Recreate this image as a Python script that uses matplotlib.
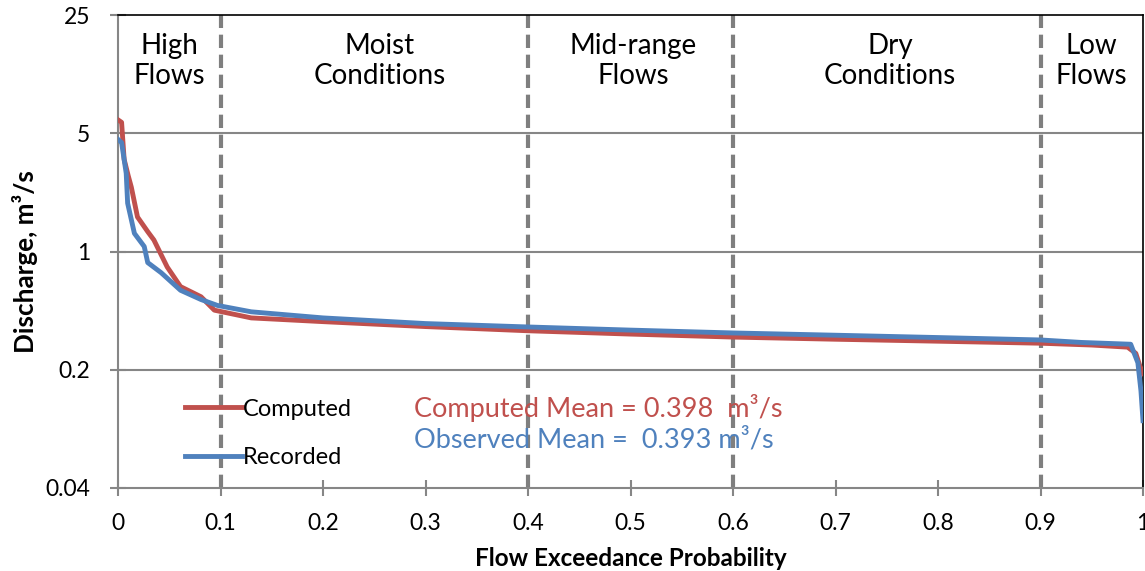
import numpy as np
import matplotlib
matplotlib.use("Agg")
import matplotlib.pyplot as plt

plt.rcParams['font.family'] = ['Lato', 'DejaVu Sans']

# flow duration curves: exceedance probability vs discharge (m3/s)
computed_p = [0.0, 0.0035, 0.006, 0.010, 0.013, 0.019, 0.029, 0.035, 0.048, 0.061,
              0.081, 0.094, 0.13, 0.2, 0.3, 0.4, 0.5, 0.6, 0.7, 0.8, 0.9, 0.95,
              0.985, 0.993, 0.997, 1.0]
computed_q = [6.0, 5.8, 3.5, 2.8, 2.4, 1.6, 1.31, 1.17, 0.81, 0.62,
              0.54, 0.45, 0.405, 0.385, 0.36, 0.34, 0.325, 0.312, 0.303, 0.295, 0.287, 0.28,
              0.272, 0.25, 0.21, 0.19]

recorded_p = [0.0, 0.0035, 0.008, 0.0094, 0.016, 0.0256, 0.029, 0.042, 0.061, 0.081,
              0.097, 0.13, 0.2, 0.3, 0.4, 0.5, 0.6, 0.7, 0.8, 0.9, 0.94,
              0.988, 0.995, 0.998, 1.0]
recorded_q = [4.6, 4.4, 2.9, 1.93, 1.28, 1.07, 0.86, 0.75, 0.59, 0.52,
              0.48, 0.44, 0.405, 0.375, 0.358, 0.343, 0.33, 0.32, 0.31, 0.30, 0.29,
              0.283, 0.22, 0.15, 0.10]

zone_edges = [0.1, 0.4, 0.6, 0.9]
zone_centers = [0.05, 0.255, 0.503, 0.753, 0.95]
zone_names = ["High\nFlows", "Moist\nConditions", "Mid-range\nFlows", "Dry\nConditions", "Low\nFlows"]

y_ticks = [0.04, 0.2, 1, 5, 25]
y_tick_labels = ["0.04", "0.2", "1", "5", "25"]
x_ticks = [0, 0.1, 0.2, 0.3, 0.4, 0.5, 0.6, 0.7, 0.8, 0.9, 1.0]
x_tick_labels = ["0", "0.1", "0.2", "0.3", "0.4", "0.5", "0.6", "0.7", "0.8", "0.9", "1"]

computed_mean = 0.398
observed_mean = 0.393

RED = '#C0504D'
BLUE = '#4F81BD'
GRID = '#868686'

fig = plt.figure(figsize=(11.45, 5.71), dpi=100)
ax = fig.add_axes([118 / 1145, 1 - 488 / 571, 1025 / 1145, 473 / 571])

ax.set_yscale('log')
ax.set_xlim(0, 1)
ax.set_ylim(0.04, 25)

for y in y_ticks[1:-1]:
    ax.axhline(y, color=GRID, lw=1.5, zorder=1)
for x in zone_edges:
    ax.axvline(x, color='#7F7F7F', lw=3, ls=(0, (3.2, 1.6)), zorder=2)

ax.plot(computed_p, computed_q, color=RED, lw=3.5, label='Computed', zorder=3,
        solid_joinstyle='round')
ax.plot(recorded_p, recorded_q, color=BLUE, lw=3.5, label='Recorded', zorder=4,
        solid_joinstyle='round')

ax.set_xticks(x_ticks)
ax.set_xticklabels(x_tick_labels)
ax.set_yticks(y_ticks)
ax.set_yticklabels(y_tick_labels)
ax.minorticks_off()
ax.tick_params(axis='both', direction='inout', length=12, width=1.5, color=GRID,
               labelsize=16.5)
ax.tick_params(axis='y', pad=14)
ax.tick_params(axis='x', pad=12)

for side in ['left', 'bottom']:
    ax.spines[side].set_color(GRID)
    ax.spines[side].set_linewidth(1.5)
for side in ['top', 'right']:
    ax.spines[side].set_color('black')
    ax.spines[side].set_linewidth(1.2)

ax.set_xlabel('Flow Exceedance Probability', fontsize=17.5, fontweight='bold')
ax.set_ylabel('Discharge, m³/s', fontsize=18.8, fontweight='bold')
ax.xaxis.set_label_coords(0.5, -0.124)
ax.yaxis.set_label_coords(-0.078, 0.479)

for xc, name in zip(zone_centers, zone_names):
    ax.text(xc, 0.903, name, ha='center', va='center', fontsize=20,
            linespacing=1.2, transform=ax.get_xaxis_transform())

ax.text(0.2885, 0.169, f"Computed Mean = {computed_mean:.3f}  m³/s", color=RED,
        fontsize=19.5, va='center', transform=ax.transAxes)
ax.text(0.2885, 0.1015, f"Observed Mean =  {observed_mean:.3f} m³/s", color=BLUE,
        fontsize=19.5, va='center', transform=ax.transAxes)

ax.legend(loc='upper left', bbox_to_anchor=(0.056, 0.209), frameon=False,
          fontsize=17, handlelength=2.4, handletextpad=0.05, labelspacing=1.17,
          borderaxespad=0)

fig.savefig('out.png', dpi=100)
